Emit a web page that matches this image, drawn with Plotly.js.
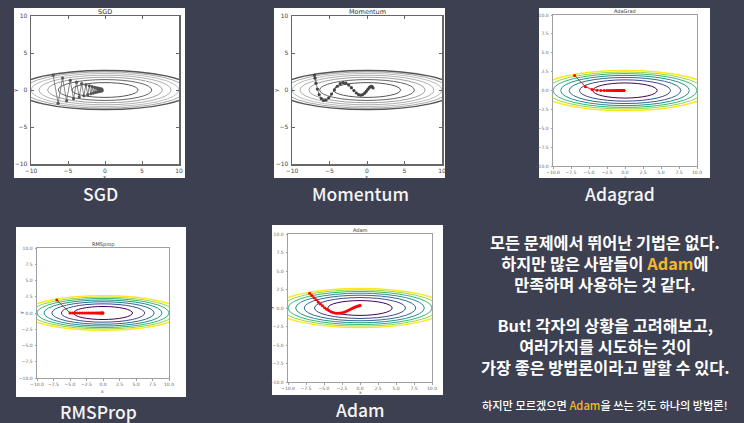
<!DOCTYPE html>
<html><head><meta charset="utf-8">
<script src="https://cdn.plot.ly/plotly-3.0.1.min.js"></script>
<style>html,body{margin:0;padding:0;background:#3d4050;}#chart{width:744px;height:423px;}</style>
</head><body><div id="chart"></div>
<script>
// ---------- data ----------
const sgdX = [-7, -6.335, -5.733, -5.189, -4.696, -4.250, -3.846, -3.480, -3.150, -2.851, -2.580, -2.335, -2.113, -1.912, -1.731, -1.566, -1.417, -1.283, -1.161, -1.051, -0.951, -0.860, -0.779, -0.705, -0.638, -0.577, -0.522, -0.473, -0.428, -0.387];
const sgdY = [2, -1.8, 1.62, -1.458, 1.312, -1.181, 1.063, -0.957, 0.861, -0.775, 0.697, -0.628, 0.565, -0.508, 0.458, -0.412, 0.371, -0.334, 0.300, -0.270, 0.243, -0.219, 0.197, -0.177, 0.160, -0.144, 0.129, -0.116, 0.105, -0.094];
const momX = [-7, -6.93, -6.798, -6.611, -6.376, -6.101, -5.793, -5.458, -5.101, -4.729, -4.348, -3.960, -3.572, -3.187, -2.809, -2.440, -2.084, -1.743, -1.418, -1.112, -0.825, -0.558, -0.313, -0.089, 0.113, 0.295, 0.455, 0.594, 0.714, 0.814];
const momY = [2, 1.6, 0.92, 0.124, -0.617, -1.161, -1.418, -1.366, -1.046, -0.548, 0.009, 0.509, 0.857, 0.998, 0.927, 0.676, 0.316, -0.071, -0.406, -0.626, -0.699, -0.624, -0.433, -0.174, 0.094, 0.316, 0.453, 0.486, 0.418, 0.273];
const adaX = [-7, -5.5, -4.573, -3.888, -3.345, -2.899, -2.524, -2.206, -1.932, -1.695, -1.489, -1.310, -1.153, -1.015, -0.895, -0.788, -0.695, -0.613, -0.540, -0.477, -0.420, -0.371, -0.327, -0.289, -0.255, -0.225, -0.198, -0.175, -0.154, -0.136];
const adaY = [2, 0.5, 0.136, 0.037, 0.010, 0.003, 0.001, 0.0002, 0.0001, 0, 0, 0, 0, 0, 0, 0, 0, 0, 0, 0, 0, 0, 0, 0, 0, 0, 0, 0, 0, 0];
const rmsX = [-7, -5, -4.6, -4.2, -3.85, -3.5, -3.15, -2.8, -2.5, -2.2, -1.9, -1.65, -1.4, -1.15, -0.95, -0.75, -0.58, -0.42, -0.3, -0.18, -0.1, -0.04, 0];
const rmsY = [2, 0, 0, 0, 0, 0, 0, 0, 0, 0, 0, 0, 0, 0, 0, 0, 0, 0, 0, 0, 0, 0, 0];
const adamX = [-7, -6.7, -6.400, -6.102, -5.804, -5.507, -5.213, -4.920, -4.630, -4.343, -4.059, -3.780, -3.504, -3.234, -2.969, -2.710, -2.457, -2.211, -1.973, -1.743, -1.521, -1.309, -1.106, -0.913, -0.730, -0.558, -0.396, -0.246, -0.107, 0.020];
const adamY = [2, 1.7, 1.402, 1.109, 0.823, 0.548, 0.288, 0.049, -0.164, -0.346, -0.492, -0.600, -0.671, -0.706, -0.708, -0.682, -0.631, -0.561, -0.476, -0.380, -0.279, -0.176, -0.075, 0.021, 0.106, 0.180, 0.239, 0.283, 0.310, 0.322];
// contour ellipses: half-widths along x and y for levels 1..7
const levelHalfX = [4.47, 6.32, 7.75, 8.94, 10.0, 10.95, 11.83];
const levelHalfY = [1.0, 1.41, 1.73, 2.0, 2.24, 2.45, 2.65];
const plotTitles = ['SGD', 'Momentum', 'AdaGrad', 'RMSprop', 'Adam'];
const captions = ['SGD', 'Momentum', 'Adagrad', 'RMSProp', 'Adam'];
const classicTicks = [-10, -5, 0, 5, 10];
const modernTicks = [-10, -7.5, -5, -2.5, 0, 2.5, 5, 7.5, 10];
const textBlock1 = [
  '모든 문제에서 뛰어난 기법은 없다.',
  '하지만 많은 사람들이 <span style="color:#f5b731">Adam</span>에',
  '만족하며 사용하는 것 같다.'
];
const textBlock2 = [
  'But! 각자의 상황을 고려해보고,',
  '여러가지를 시도하는 것이',
  '가장 좋은 방법론이라고 말할 수 있다.'
];
const footLine = '하지만 모르겠으면 <span style="color:#f5b731">Adam</span>을 쓰는 것도 하나의 방법론!';

// ---------- layout ----------
const W = 744, H = 423;
const fx = p => p / W, fy = p => 1 - p / H;
const series = [[sgdX, sgdY], [momX, momY], [adaX, adaY], [rmsX, rmsY], [adamX, adamY]];
const panels = [
  {ax: [31, 179], ay: [16, 164], box: [14, 185, 8, 178], cap: [100, 193], classic: true, col: '#555', xl: 12.5, yl: 15},
  {ax: [292, 442], ay: [16, 164], box: [274, 445, 8, 178], cap: [360, 193], classic: true, col: '#444', xl: 12.5, yl: 15},
  {ax: [553, 697], ay: [15, 166], box: [539, 710, 8, 178], cap: [620, 193], classic: false, col: '#ff0000', xl: 11, yl: 17},
  {ax: [37, 169], ay: [248, 378], box: [16, 186, 227, 397], cap: [98, 411], classic: false, col: '#ff0000', xl: 13, yl: 16},
  {ax: [288, 432], ay: [234, 382], box: [272, 443, 225, 395], cap: [360, 409], classic: false, col: '#ff0000', xl: 10.5, yl: 17}
];
const grayLevels = ['#555', '#666', '#a0a0a0', '#b0b0b0', '#bcbcbc', '#a8a8a8', '#555'];
const viridisLevels = ['#440154', '#3e4989', '#31688e', '#21918c', '#35b779', '#90d743', '#fde725'];

const traces = [], shapes = [], annotations = [];
const layout = {
  width: W, height: H, margin: {l: 0, r: 0, t: 0, b: 0},
  paper_bgcolor: '#3d4050', plot_bgcolor: '#ffffff', showlegend: false
};
panels.forEach((p, i) => {
  const n = i === 0 ? '' : String(i + 1);
  const xa = 'xaxis' + n, ya = 'yaxis' + n;
  const common = {
    range: [-10, 10], showgrid: false, zeroline: false, showline: true, fixedrange: true,
    tickvals: p.classic ? classicTicks : modernTicks,
    tickformat: p.classic ? 'd' : '.1f',
    ticks: p.classic ? 'inside' : 'outside', ticklen: p.classic ? 3 : 1.5, tickwidth: 1,
    mirror: p.classic ? 'allticks' : true,
    linecolor: p.classic ? '#666' : '#a0a0a0', linewidth: p.classic ? 1.5 : 1,
    tickcolor: p.classic ? '#666' : '#a0a0a0',
    tickfont: {family: 'DejaVu Sans', size: p.classic ? 6 : 4.5, color: p.classic ? '#444' : '#666'},
    ticklabelstandoff: 0
  };
  layout[xa] = Object.assign({}, common, {domain: [fx(p.ax[0]), fx(p.ax[1])], anchor: 'y' + n});
  layout[ya] = Object.assign({}, common, {domain: [fy(p.ay[1]), fy(p.ay[0])], anchor: 'x' + n, ticklabelstandoff: 1});
  // white panel
  shapes.push({type: 'rect', xref: 'paper', yref: 'paper', x0: fx(p.box[0]), x1: fx(p.box[1]),
    y0: fy(p.box[3]), y1: fy(p.box[2]), fillcolor: '#ffffff', line: {width: 0}, layer: 'below'});
  // contour ellipses
  levelHalfX.forEach((a, k) => {
    const b = levelHalfY[k];
    shapes.push({type: 'circle', xref: 'x' + n, yref: 'y' + n, x0: -a, x1: a, y0: -b, y1: b,
      line: {color: p.classic ? grayLevels[k] : viridisLevels[k], width: k === 6 ? 1.5 : 1}, layer: 'below'});
  });
  // optimizer path
  traces.push({
    type: 'scatter', mode: 'lines+markers', x: series[i][0], y: series[i][1],
    xaxis: 'x' + n, yaxis: 'y' + n,
    line: {color: p.col, width: p.classic ? 0.7 : 0.9},
    marker: {color: p.col, size: p.classic ? 3.2 : 3, line: {width: 0}},
    hoverinfo: 'skip'
  });
  // subplot title
  annotations.push({xref: 'paper', yref: 'paper', x: fx((p.ax[0] + p.ax[1]) / 2), y: fy(p.ay[0] - 4),
    text: plotTitles[i], showarrow: false, xanchor: 'center', yanchor: 'middle',
    font: {family: 'DejaVu Sans', size: p.classic ? 6.5 : 5, color: '#333'}});
  // axis titles
  annotations.push({xref: 'paper', yref: 'paper', x: fx((p.ax[0] + p.ax[1]) / 2), y: fy(p.ay[1] + p.xl),
    text: 'x', showarrow: false, xanchor: 'center', yanchor: 'middle',
    font: {family: 'DejaVu Sans', size: p.classic ? 5.5 : 4.5, color: '#444'}});
  annotations.push({xref: 'paper', yref: 'paper', x: fx(p.ax[0] - p.yl), y: fy((p.ay[0] + p.ay[1]) / 2),
    text: 'y', showarrow: false, xanchor: 'center', yanchor: 'middle', textangle: -90,
    font: {family: 'DejaVu Sans', size: p.classic ? 5.5 : 4.5, color: '#444'}});
  // caption under panel
  annotations.push({xref: 'paper', yref: 'paper', x: fx(p.cap[0]), y: fy(p.cap[1]),
    text: captions[i], showarrow: false, xanchor: 'center', yanchor: 'middle',
    font: {family: 'Noto Sans CJK KR', size: 17.5, weight: 500, color: '#f4f4f4'}});
});
// right-hand message blocks
[[textBlock1, 263], [textBlock2, 346]].forEach(([lines, cy]) => {
  annotations.push({xref: 'paper', yref: 'paper', x: fx(605), y: fy(cy), text: lines.join('<br>'),
    showarrow: false, xanchor: 'center', yanchor: 'middle', align: 'center',
    font: {family: 'Noto Sans CJK KR', size: 16.3, weight: 700, color: '#ffffff'}});
});
annotations.push({xref: 'paper', yref: 'paper', x: fx(605), y: fy(405), text: footLine, showarrow: false,
  xanchor: 'center', yanchor: 'middle',
  font: {family: 'Noto Sans CJK KR', size: 11.2, weight: 500, color: '#ffffff'}});
layout.shapes = shapes;
layout.annotations = annotations;
Plotly.newPlot('chart', traces, layout, {displayModeBar: false, staticPlot: true});
</script></body></html>
